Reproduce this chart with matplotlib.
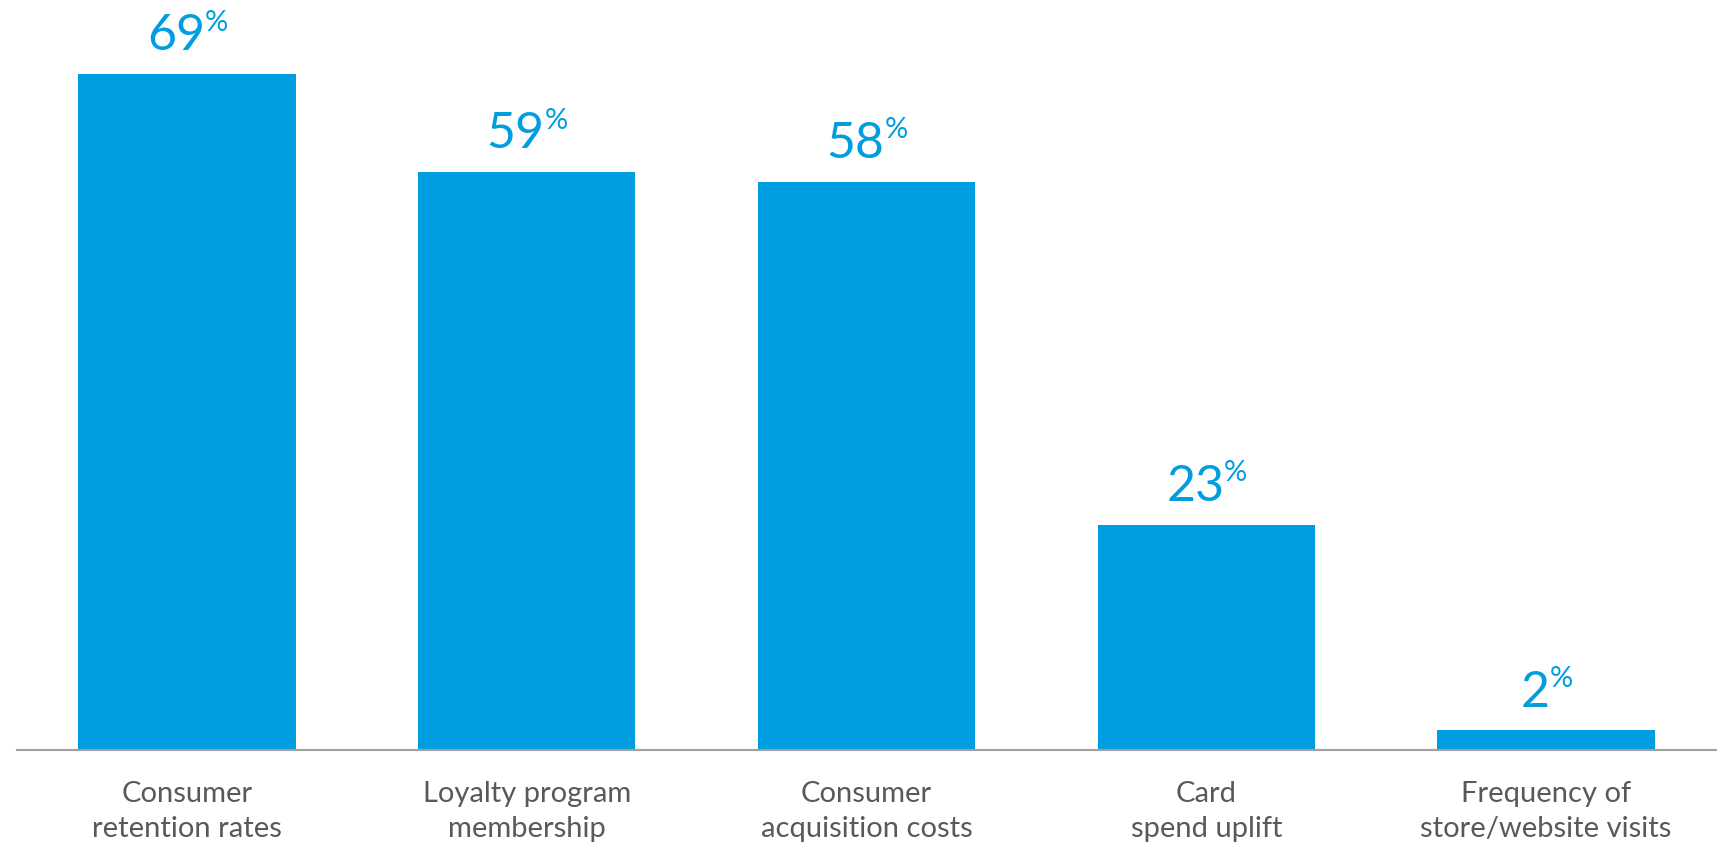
import matplotlib.pyplot as plt

plt.rcParams['font.family'] = ['Lato', 'DejaVu Sans']

categories = ["Consumer\nretention rates", "Loyalty program\nmembership",
              "Consumer\nacquisition costs", "Card\nspend uplift",
              "Frequency of\nstore/website visits"]
values = [69, 59, 58, 23, 2]

blue = "#009EE0"
grey_text = "#595959"

fig = plt.figure(figsize=(17.34, 8.46), dpi=100)
ax = fig.add_axes([17 / 1734, 1 - 750 / 846, (1716 - 17) / 1734, (750 - 15) / 846])

x = range(len(values))
bars = ax.bar(x, values, width=0.64, color=blue)

ax.set_xlim(-0.5, 4.5)
ax.set_ylim(0, 75)

# value labels: big number with a small raised percent sign
for rect, v in zip(bars, values):
    cx = rect.get_x() + rect.get_width() / 2
    num = ax.annotate(str(v), xy=(cx, v), xytext=(-8, 17), textcoords="offset points",
                      ha="center", va="baseline", fontsize=36, color=blue)
    ax.annotate("%", xy=(1, 1.08), xycoords=num, ha="left", va="top",
                fontsize=21, color=blue)

for spine in ["top", "right", "left"]:
    ax.spines[spine].set_visible(False)
ax.spines["bottom"].set_color("#A0A0A0")
ax.spines["bottom"].set_linewidth(1.5)

ax.set_yticks([])
ax.set_xticks(list(x))
ax.set_xticklabels(categories, fontsize=21, color=grey_text, linespacing=1.45)
ax.tick_params(axis="x", length=0, pad=22)

fig.savefig("out.png", dpi=100)
